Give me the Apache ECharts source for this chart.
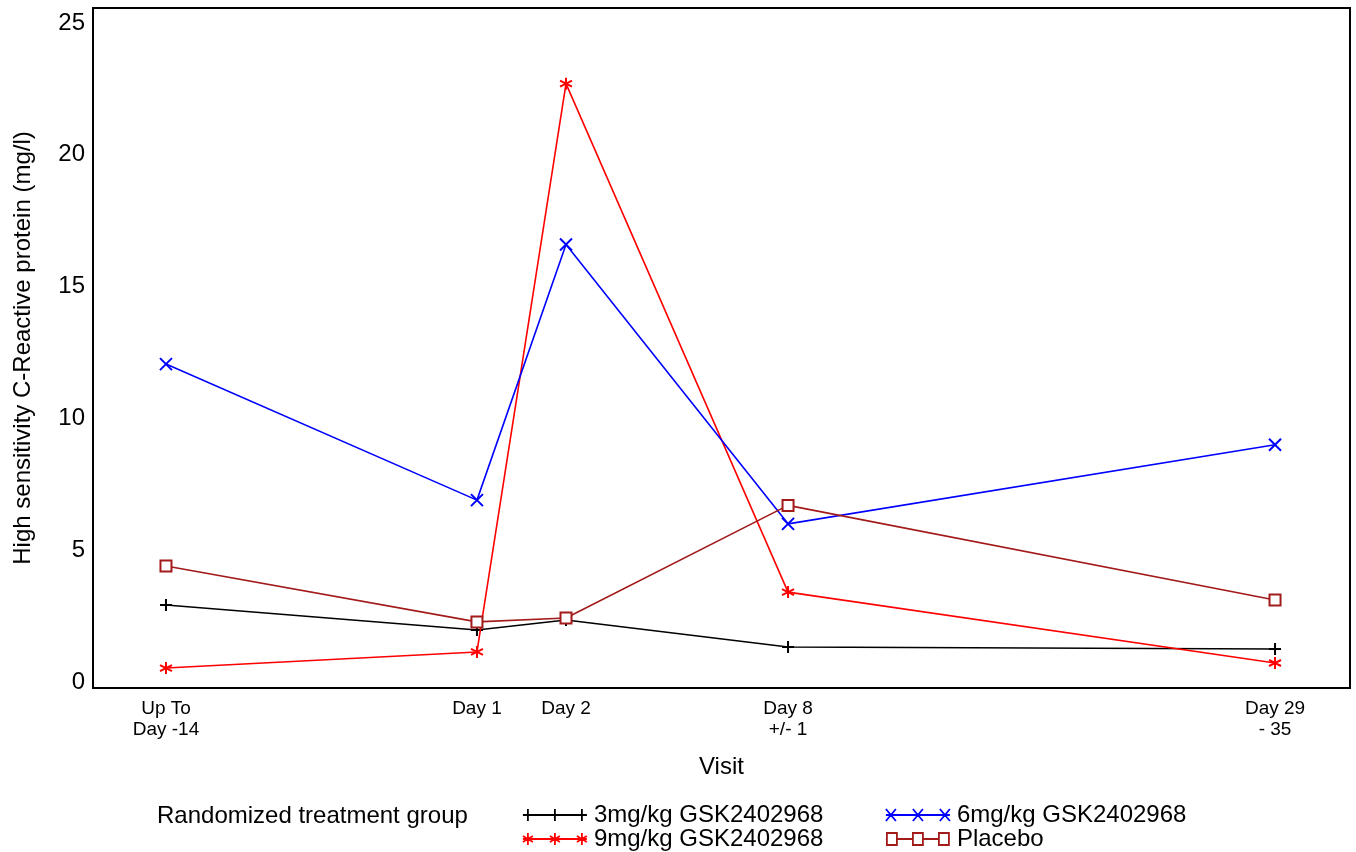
<!DOCTYPE html>
<html>
<head>
<meta charset="utf-8">
<script src="https://cdn.jsdelivr.net/npm/echarts@6/dist/echarts.min.js"></script>
<style>html,body{margin:0;padding:0;background:#fff}#c{width:1356px;height:852px}</style>
</head>
<body>
<div id="c"></div>
<script>
// Visits (relative position on the axis) and their labels
var visitLabels = ['Up To\nDay -14', 'Day 1', 'Day 2', 'Day 8\n+/- 1', 'Day 29\n- 35'];
var visitPos = [0, 28.04, 36.07, 56.09, 100];
var yTicks = [0, 5, 10, 15, 20, 25];

var seriesNames = ['3mg/kg GSK2402968', '9mg/kg GSK2402968', '6mg/kg GSK2402968', 'Placebo'];
var values3mg = [2.92, 1.97, 2.35, 1.33, 1.25];
var values9mg = [0.53, 1.14, 22.7, 3.41, 0.72];
var values6mg = [12.06, 6.9, 16.6, 6.0, 9.0];
var valuesPlacebo = [4.4, 2.28, 2.43, 6.7, 3.11];

var colors = ['#000000', '#ff0000', '#0000ff', '#a31a1a'];
var symbols = [
  'path://M0,5L10,5M5,0L5,10',
  'path://M5,0L5,10M0.7,2.5L9.3,7.5M0.7,7.5L9.3,2.5',
  'path://M0,0L10,10M0,10L10,0',
  'rect'
];
// legend icons: a line with three markers (64 x 12 box)
var legendIcons = [
  'path://M0,6L64,6M5,0L5,12M32,0L32,12M59,0L59,12',
  'path://M0,6L64,6M5,0L5,12M0,3L10,9M0,9L10,3M32,0L32,12M27,3L37,9M27,9L37,3M59,0L59,12M54,3L64,9M54,9L64,3',
  'path://M0,6L64,6M0,1L10,11M0,11L10,1M27,1L37,11M27,11L37,1M54,1L64,11M54,11L64,1',
  'path://M0,6L1,6M1,1L11,1L11,11L1,11ZM11,6L27,6M27,1L37,1L37,11L27,11ZM37,6L53,6M53,1L63,1L63,11L53,11ZM63,6L64,6'
];
var allValues = [values3mg, values9mg, values6mg, valuesPlacebo];

function pairs(vals) {
  return vals.map(function (v, i) { return [visitPos[i], v]; });
}

var series = seriesNames.map(function (n, k) {
  var isRect = symbols[k] === 'rect';
  return {
    name: n,
    type: 'line',
    data: pairs(allValues[k]),
    symbol: symbols[k],
    symbolSize: isRect ? 11 : 12,
    showAllSymbol: true,
    lineStyle: { color: colors[k], width: 1.6 },
    itemStyle: { color: isRect ? '#ffffff' : 'rgba(0,0,0,0)', borderColor: colors[k], borderWidth: 2 },
    emphasis: { disabled: true },
    z: 2 + k
  };
});

function legendAt(k, left, top) {
  return {
    data: [{ name: seriesNames[k], icon: legendIcons[k] }],
    left: left, top: top, orient: 'horizontal',
    itemWidth: 64, itemHeight: 12, selectedMode: false, symbolKeepAspect: false,
    itemStyle: { color: 'rgba(0,0,0,0)', borderColor: colors[k], borderWidth: 1.8 },
    textStyle: { fontFamily: 'Liberation Sans, Arial, sans-serif', fontSize: 24, color: '#000', padding: [0, 0, 0, 2] }
  };
}

var chart = echarts.init(document.getElementById('c'), null, { renderer: 'canvas' });
chart.setOption({
  animation: false,
  backgroundColor: '#fff',
  title: {
    text: 'Randomized treatment group', left: 152, top: 799,
    textStyle: { fontFamily: 'Liberation Sans, Arial, sans-serif', fontSize: 24, fontWeight: 'normal', color: '#000' }
  },
  legend: [
    legendAt(0, 517, 798),
    legendAt(2, 880, 798),
    legendAt(1, 517, 822),
    legendAt(3, 880, 822)
  ],
  grid: { left: 93, right: 6, top: 8, bottom: 164, show: true, borderColor: '#000', borderWidth: 2, backgroundColor: 'transparent' },
  xAxis: {
    type: 'value', min: -6.58, max: 106.76,
    name: 'Visit', nameLocation: 'middle', nameGap: 67,
    nameTextStyle: { fontFamily: 'Liberation Sans, Arial, sans-serif', fontSize: 24, color: '#000' },
    axisLine: { show: false }, axisTick: { show: false }, splitLine: { show: false },
    axisLabel: {
      customValues: visitPos,
      fontFamily: 'Liberation Sans, Arial, sans-serif', fontSize: 19, lineHeight: 21, color: '#000', margin: 10,
      formatter: function (v) {
        var best = 0;
        for (var i = 0; i < visitPos.length; i++) if (Math.abs(visitPos[i] - v) < Math.abs(visitPos[best] - v)) best = i;
        return visitLabels[best];
      }
    }
  },
  yAxis: {
    type: 'value', min: -0.228, max: 25.57,
    name: 'High sensitivity C-Reactive protein (mg/l)', nameLocation: 'middle', nameGap: 58,
    nameTextStyle: { fontFamily: 'Liberation Sans, Arial, sans-serif', fontSize: 24, color: '#000' },
    axisLine: { show: false }, axisTick: { show: false }, splitLine: { show: false },
    axisLabel: {
      customValues: yTicks,
      fontFamily: 'Liberation Sans, Arial, sans-serif', fontSize: 24, color: '#000', margin: 8
    }
  },
  series: series
});
</script>
</body>
</html>
